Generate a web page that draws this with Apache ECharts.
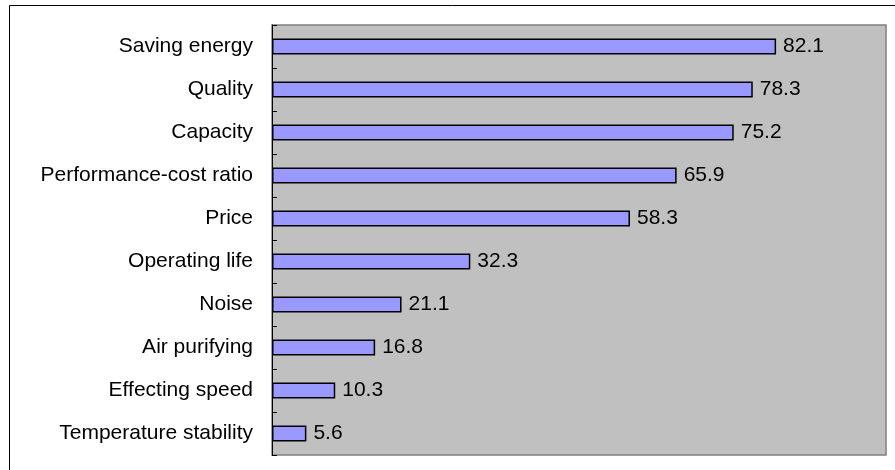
<!DOCTYPE html>
<html>
<head>
<meta charset="utf-8">
<script src="https://cdn.jsdelivr.net/npm/echarts@6/dist/echarts.min.js"></script>
<style>
  html, body { margin: 0; padding: 0; background: #ffffff; }
  #chart { width: 895px; height: 470px; }
</style>
</head>
<body>
<div id="chart"></div>
<script>
// Survey factors, listed top to bottom
const categories = [
  'Saving energy',
  'Quality',
  'Capacity',
  'Performance-cost ratio',
  'Price',
  'Operating life',
  'Noise',
  'Air purifying',
  'Effecting speed',
  'Temperature stability'
];
const values = [82.1, 78.3, 75.2, 65.9, 58.3, 32.3, 21.1, 16.8, 10.3, 5.6];

const FONT = 'Liberation Sans, Arial, sans-serif';

const chart = echarts.init(document.getElementById('chart'), null, { renderer: 'canvas' });

chart.setOption({
  animation: false,
  backgroundColor: '#ffffff',
  graphic: [
    {
      // outer frame of the chart box
      type: 'rect',
      shape: { x: 9.5, y: 5.5, width: 1000, height: 1000 },
      style: { fill: 'none', stroke: '#000000', lineWidth: 1 },
      z: 0
    }
  ],
  grid: {
    left: 272,
    top: 25,
    right: 9,
    bottom: 15,
    show: true,
    backgroundColor: '#C0C0C0',
    borderColor: '#808080',
    borderWidth: 1.5
  },
  xAxis: {
    type: 'value',
    min: 0,
    max: 100,
    show: false
  },
  yAxis: {
    type: 'category',
    data: categories,
    inverse: true,
    axisLine: { show: true, lineStyle: { color: '#000000', width: 1 } },
    axisTick: { show: true, inside: true, length: 5, lineStyle: { color: '#000000' } },
    axisLabel: { color: '#000000', fontSize: 21, fontFamily: FONT, margin: 19 },
    splitLine: { show: false }
  },
  series: [
    {
      type: 'bar',
      data: values,
      barWidth: 16,
      itemStyle: { color: '#9999FF', borderColor: '#000000', borderWidth: 1.5 },
      label: {
        show: true,
        position: 'right',
        distance: 7,
        color: '#000000',
        fontSize: 21,
        fontFamily: FONT,
        formatter: p => p.value.toFixed(1)
      }
    }
  ]
});
</script>
</body>
</html>
